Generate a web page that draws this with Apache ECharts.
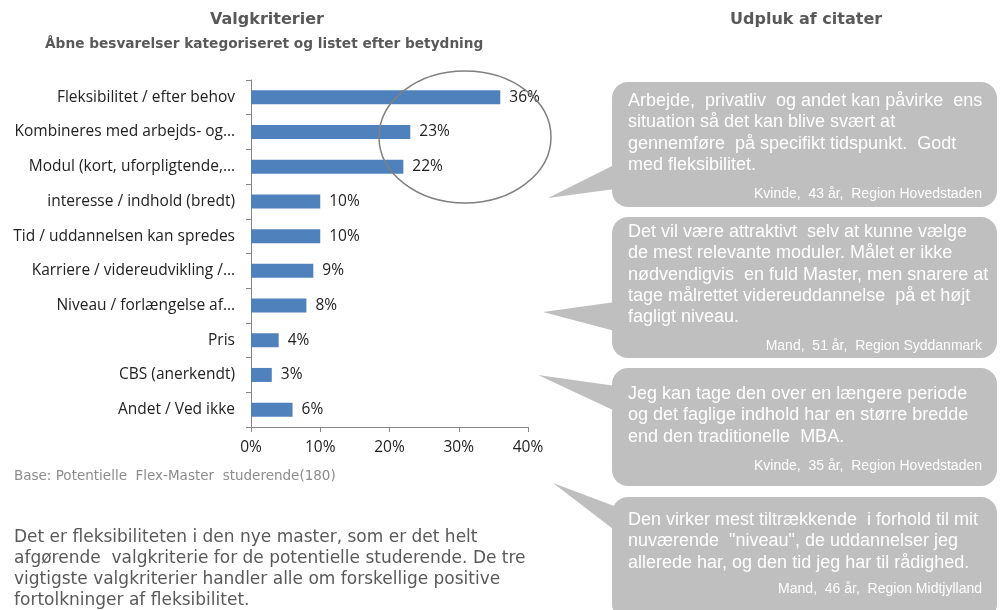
<!DOCTYPE html>
<html lang="da">
<head>
    <meta charset="UTF-8">
    <title>Valgkriterier</title>
    <script src="https://cdn.jsdelivr.net/npm/echarts@6/dist/echarts.min.js"></script>
    <style>
        html, body { margin: 0; padding: 0; background: #fff; }
        #container { width: 1000px; height: 610px; }
    </style>
</head>
<body>
    <div id="container"></div>
    <script>
        // data
        let categories = [
            'Fleksibilitet / efter behov',
            'Kombineres med arbejds- og…',
            'Modul (kort, uforpligtende,…',
            'interesse / indhold (bredt)',
            'Tid / uddannelsen kan spredes',
            'Karriere / videreudvikling /…',
            'Niveau / forlængelse af…',
            'Pris',
            'CBS (anerkendt)',
            'Andet / Ved ikke'
        ];
        let shares = [36, 23, 22, 10, 10, 9, 8, 4, 3, 6];
        let axisTicks = [0, 10, 20, 30, 40];

        let quotes = [
            'Arbejde,  privatliv  og andet kan påvirke  ens\nsituation så det kan blive svært at\ngennemføre  på specifikt tidspunkt.  Godt\nmed fleksibilitet.',
            'Det vil være attraktivt  selv at kunne vælge\nde mest relevante moduler. Målet er ikke\nnødvendigvis  en fuld Master, men snarere at\ntage målrettet videreuddannelse  på et højt\nfagligt niveau.',
            'Jeg kan tage den over en længere periode\nog det faglige indhold har en større bredde\nend den traditionelle  MBA.',
            'Den virker mest tiltrækkende  i forhold til mit\nnuværende  "niveau", de uddannelser jeg\nallerede har, og den tid jeg har til rådighed.'
        ];
        let authors = [
            'Kvinde,  43 år,  Region Hovedstaden',
            'Mand,  51 år,  Region Syddanmark',
            'Kvinde,  35 år,  Region Hovedstaden',
            'Mand,  46 år,  Region Midtjylland'
        ];

        let grey = '#595959';
        let bubbleFill = '#BFBFBF';

        // bubble boxes: [top, bottom, tail tip x, tail tip y, tail base top, tail base bottom, first line y, author y]
        let boxes = [
            [82, 207, 548, 198, 157, 187, 101, 195],
            [217, 358, 543, 312, 300, 335, 232, 347],
            [368, 486, 538, 375, 388, 418, 394, 467],
            [497, 620, 553, 483, 512, 542, 520, 590]
        ];
        let lineH = 21.3;

        let graphics = [
            { type: 'text', left: 210, top: 12, style: { text: 'Valgkriterier', font: 'bold 16px "DejaVu Sans"', fill: grey } },
            { type: 'text', left: 45, top: 37, style: { text: 'Åbne besvarelser kategoriseret og listet efter betydning', font: 'bold 13.7px "DejaVu Sans"', fill: grey } },
            { type: 'text', left: 730, top: 12, style: { text: 'Udpluk af citater', font: 'bold 16px "DejaVu Sans"', fill: grey } },
            { type: 'text', left: 14, top: 469, style: { text: 'Base: Potentielle  Flex-Master  studerende(180)', font: '13.5px "DejaVu Sans"', fill: '#8c8c8c' } },
            {
                type: 'text', left: 14, top: 527,
                style: {
                    text: 'Det er fleksibiliteten i den nye master, som er det helt\nafgørende  valgkriterie for de potentielle studerende. De tre\nvigtigste valgkriterier handler alle om forskellige positive\nfortolkninger af fleksibilitet.',
                    font: '17px "DejaVu Sans"', fill: grey, lineHeight: 21
                }
            },
            {
                type: 'ellipse', z: 100,
                shape: { cx: 465, cy: 137, rx: 86, ry: 66 },
                style: { fill: 'none', stroke: '#808080', lineWidth: 1.5 }
            }
        ];

        boxes.forEach((b, i) => {
            graphics.push({
                type: 'polygon',
                shape: { points: [[b[2], b[3]], [630, b[4]], [630, b[5]]] },
                style: { fill: bubbleFill }
            });
            graphics.push({
                type: 'rect',
                shape: { x: 612, y: b[0], width: 385, height: b[1] - b[0], r: 16 },
                style: { fill: bubbleFill }
            });
            graphics.push({
                type: 'text', left: 628, top: b[6] - lineH / 2,
                style: { text: quotes[i], font: '18px "Liberation Sans"', fill: '#fff', lineHeight: lineH }
            });
            graphics.push({
                type: 'text', right: 18, top: b[7] - 8,
                style: { text: authors[i], font: '14px "Liberation Sans"', fill: '#fff' }
            });
        });

        let chart = echarts.init(document.getElementById('container'));
        let option = {
            animation: false,
            grid: { left: 251, right: 472, top: 80, bottom: 183 },
            xAxis: {
                type: 'value',
                min: 0,
                max: 40,
                interval: 10,
                splitLine: { show: false },
                axisLine: { show: true, lineStyle: { color: '#868686' } },
                axisTick: { show: true, length: 5, lineStyle: { color: '#868686' } },
                axisLabel: {
                    formatter: v => axisTicks.indexOf(v) >= 0 ? v + '%' : '',
                    color: '#222', fontFamily: 'Open Sans', fontSize: 15.5, margin: 13
                }
            },
            yAxis: {
                type: 'category',
                inverse: true,
                data: categories,
                axisLine: { show: true, lineStyle: { color: '#868686' } },
                axisTick: { show: true, length: 5, lineStyle: { color: '#868686' } },
                axisLabel: { color: '#222', fontFamily: 'Open Sans', fontSize: 15.5, margin: 16 }
            },
            series: [{
                type: 'bar',
                data: shares,
                barWidth: 14,
                itemStyle: { color: '#4F81BD' },
                label: {
                    show: true,
                    position: 'right',
                    distance: 9,
                    formatter: '{c}%',
                    color: '#222',
                    fontFamily: 'Open Sans',
                    fontSize: 15.5
                }
            }],
            graphic: graphics
        };
        chart.setOption(option);
    </script>
</body>
</html>
